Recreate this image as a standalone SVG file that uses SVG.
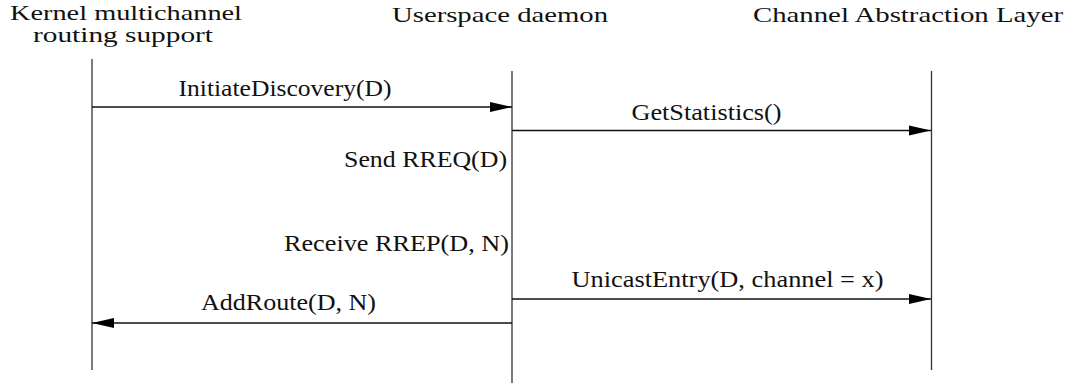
<svg xmlns="http://www.w3.org/2000/svg" width="1070" height="383" viewBox="0 0 1070 383">
<style>
text{font-family:"Liberation Serif","Times New Roman",Times,"DejaVu Serif",serif;fill:#111}
.h{font-size:21px}
.m{font-size:24px}
.life{stroke:#333;stroke-width:1.3;fill:none}
.msg{stroke:#111;stroke-width:1.4;fill:none;marker-end:url(#ah)}
</style>
<defs>
<marker id="ah" markerUnits="userSpaceOnUse" markerWidth="22" markerHeight="12" refX="22" refY="6" orient="auto">
<path d="M0,1 L22,6 L0,11 Z" fill="#000"/>
</marker>
</defs>
<rect width="1070" height="383" fill="#fff"/>
<g id="kernel">
<text class="h" x="126" y="20" text-anchor="middle" textLength="232" lengthAdjust="spacingAndGlyphs" font-family="Liberation Serif, serif">Kernel multichannel</text>
<text class="h" x="123" y="42" text-anchor="middle" textLength="180" lengthAdjust="spacingAndGlyphs" font-family="Liberation Serif, serif">routing support</text>
<line class="life" x1="92" y1="59" x2="92" y2="370"/>
</g>
<g id="daemon">
<text class="h" x="500" y="22" text-anchor="middle" textLength="216" lengthAdjust="spacingAndGlyphs">Userspace daemon</text>
<line class="life" x1="512" y1="71" x2="512" y2="383"/>
<text class="m" x="507" y="166.5" text-anchor="end" textLength="163" lengthAdjust="spacingAndGlyphs">Send RREQ(D)</text>
<text class="m" x="509" y="250.5" text-anchor="end" textLength="225" lengthAdjust="spacingAndGlyphs">Receive RREP(D, N)</text>
</g>
<g id="cal">
<text class="h" x="908" y="22" text-anchor="middle" textLength="310" lengthAdjust="spacingAndGlyphs">Channel Abstraction Layer</text>
<line class="life" x1="931.5" y1="71" x2="931.5" y2="370"/>
</g>
<g id="connectors">
<line class="msg" x1="92" y1="107" x2="512" y2="107"/>
<text class="m" x="285" y="96" text-anchor="middle" textLength="213" lengthAdjust="spacingAndGlyphs">InitiateDiscovery(D)</text>
<line class="msg" x1="512" y1="130.5" x2="931" y2="130.5"/>
<text class="m" x="706.5" y="120" text-anchor="middle" textLength="150" lengthAdjust="spacingAndGlyphs">GetStatistics()</text>
<line class="msg" x1="512" y1="299" x2="931" y2="299"/>
<text class="m" x="727.5" y="286.5" text-anchor="middle" textLength="312" lengthAdjust="spacingAndGlyphs">UnicastEntry(D, channel = x)</text>
<line class="msg" x1="512" y1="323" x2="92" y2="323"/>
<text class="m" x="288.5" y="310" text-anchor="middle" textLength="175" lengthAdjust="spacingAndGlyphs">AddRoute(D, N)</text>
</g>
</svg>
